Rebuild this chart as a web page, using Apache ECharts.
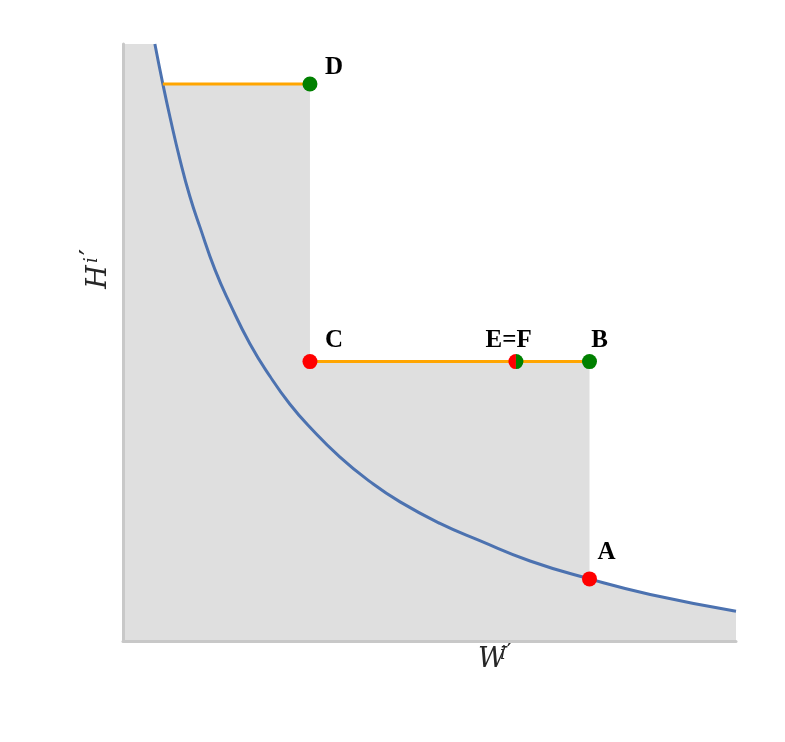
<!DOCTYPE html>
<html>
<head>
<meta charset="utf-8">
<script src="https://cdn.jsdelivr.net/npm/echarts@6/dist/echarts.min.js"></script>
<style>
  html, body { margin: 0; padding: 0; background: #fff; }
  #main { width: 785px; height: 742px; }
</style>
</head>
<body>
<div id="main"></div>
<script>
// curve (data units 0..10 on both axes)
const curveX = [0.52, 0.65, 0.77, 0.93, 1.09, 1.26, 1.50, 1.75, 2.07, 2.40, 2.72, 3.05, 3.54, 4.03, 4.52, 5.17, 5.82, 6.64, 7.61, 8.60, 10.0];
const curveY = [10.0, 9.33, 8.76, 8.06, 7.45, 6.92, 6.22, 5.64, 4.98, 4.43, 3.97, 3.58, 3.08, 2.67, 2.33, 1.97, 1.68, 1.34, 1.04, 0.78, 0.50];

// labelled points
const pointNames = ['D', 'C', 'B', 'A'];
const pointX = [3.05, 3.05, 7.61, 7.61];
const pointY = [9.33, 4.68, 4.68, 1.04];
const pointColors = ['#008000', '#ff0000', '#008000', '#ff0000'];
const pointLabelOffset = [[24, -16], [24, -21], [10, -21], [17, -26]];

// E=F point (half red / half green)
const efX = 6.41;
const efY = 4.68;

const curve = curveX.map((x, i) => [x, curveY[i]]);

// shaded region: union of area under curve and the step through D, C, B, A
let area = [[0, 10]];
curve.forEach(p => { if (p[0] <= curveX[1]) area.push(p) });
area.push([pointX[0], pointY[0]], [pointX[1], pointY[1]], [pointX[2], pointY[2]], [pointX[3], pointY[3]]);
curve.forEach(p => { if (p[0] > pointX[3]) area.push(p) });

const labelStyle = {
    show: true,
    position: 'inside',
    color: '#000',
    fontFamily: 'Liberation Serif',
    fontWeight: 'bold',
    fontSize: 25
};

const nameFont = 'italic 27px "DejaVu Serif"';
const supFont = 'italic 18px "DejaVu Serif"';
const primeFont = '28px "DejaVu Serif"';

const chart = echarts.init(document.getElementById('main'));

let option = {
    animation: false,
    grid: { left: 123, right: 49, top: 44, bottom: 101 },
    xAxis: {
        type: 'value', min: 0, max: 10, z: 2,
        axisLine: { show: true, onZero: false, lineStyle: { color: '#c8c8c8', width: 3 } },
        axisTick: { show: false }, axisLabel: { show: false }, splitLine: { show: false }
    },
    yAxis: {
        type: 'value', min: 0, max: 10, z: 2,
        axisLine: { show: true, onZero: false, lineStyle: { color: '#c8c8c8', width: 3 } },
        axisTick: { show: false }, axisLabel: { show: false }, splitLine: { show: false }
    },
    graphic: [
        { type: 'text', x: 492, y: 660, silent: true,
          style: { text: 'W', font: nameFont, fill: '#262626', align: 'center', verticalAlign: 'middle' } },
        { type: 'text', x: 503, y: 654, silent: true,
          style: { text: 'i', font: supFont, fill: '#262626', align: 'center', verticalAlign: 'middle' } },
        { type: 'text', x: 510, y: 655, silent: true,
          style: { text: '′', font: primeFont, fill: '#262626', align: 'center', verticalAlign: 'middle' } },
        { type: 'text', x: 99, y: 277, rotation: Math.PI / 2, silent: true,
          style: { text: 'H', font: nameFont, fill: '#262626', align: 'center', verticalAlign: 'middle' } },
        { type: 'text', x: 92, y: 260, rotation: Math.PI / 2, silent: true,
          style: { text: 'i', font: supFont, fill: '#262626', align: 'center', verticalAlign: 'middle' } },
        { type: 'text', x: 93, y: 252, rotation: Math.PI / 2, silent: true,
          style: { text: '′', font: primeFont, fill: '#262626', align: 'center', verticalAlign: 'middle' } }
    ],
    series: [
        {
            type: 'line', data: area, symbol: 'none', silent: true, z: 1,
            lineStyle: { width: 0 },
            areaStyle: { color: '#dfdfdf', opacity: 1 }
        },
        {
            type: 'line', data: curve, symbol: 'none', smooth: 0.5, silent: true, z: 3,
            lineStyle: { color: '#4c72b0', width: 3 }
        },
        {
            type: 'line', data: [[curveX[1], pointY[0]], [pointX[0], pointY[0]]], symbol: 'none', silent: true, z: 3,
            lineStyle: { color: '#ffa500', width: 3 }
        },
        {
            type: 'line', data: [[pointX[1], pointY[1]], [pointX[2], pointY[2]]], symbol: 'none', silent: true, z: 3,
            lineStyle: { color: '#ffa500', width: 3 }
        },
        {
            type: 'scatter', symbolSize: 15, silent: true, z: 4,
            data: pointNames.map((n, i) => ({
                value: [pointX[i], pointY[i]],
                itemStyle: { color: pointColors[i], opacity: 1 },
                label: Object.assign({}, labelStyle, { formatter: n, offset: pointLabelOffset[i] })
            }))
        },
        {
            type: 'scatter', silent: true, z: 4,
            symbol: 'path://M10,0 A10,10 0 0,0 10,20 Z',
            symbolSize: [7.5, 15], symbolOffset: [-3.75, 0],
            itemStyle: { color: '#ff0000', opacity: 1 },
            data: [[efX, efY]]
        },
        {
            type: 'scatter', silent: true, z: 4,
            symbol: 'path://M0,0 A10,10 0 0,1 0,20 Z',
            symbolSize: [7.5, 15], symbolOffset: [3.75, 0],
            itemStyle: { color: '#008000', opacity: 1 },
            data: [{
                value: [efX, efY],
                label: Object.assign({}, labelStyle, { formatter: 'E=F', offset: [-11, -21] })
            }]
        }
    ]
};

chart.setOption(option);
</script>
</body>
</html>
